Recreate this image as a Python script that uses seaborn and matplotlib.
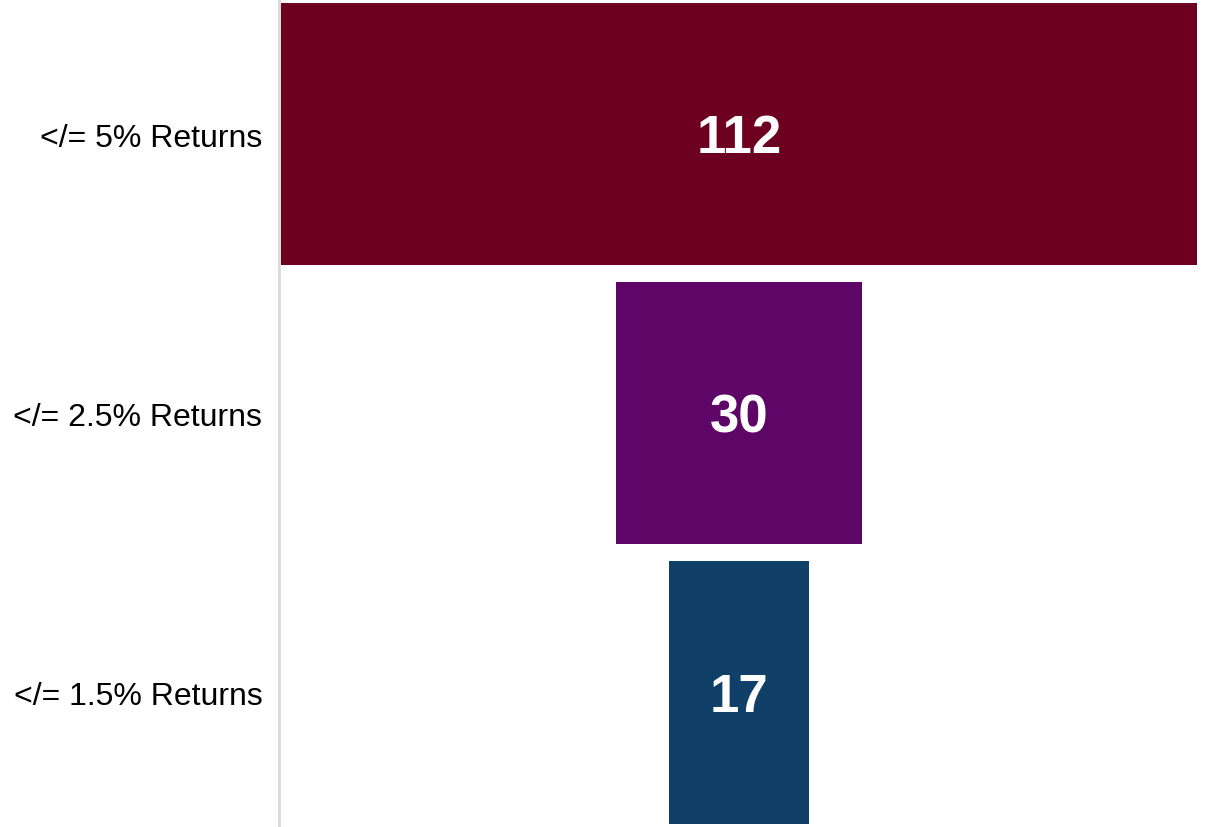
import matplotlib
matplotlib.use("Agg")
import matplotlib.pyplot as plt
import seaborn as sns
import pandas as pd

# Funnel data
stages = ["</= 5% Returns", "</= 2.5% Returns", "</= 1.5% Returns"]
counts = [112, 30, 17]
colors = ["#6d0020", "#5e0667", "#103f68"]

df = pd.DataFrame({"stage": stages, "count": counts})

sns.set_theme(style="white")
plt.rcParams["font.family"] = ["Liberation Sans", "DejaVu Sans"]

fig = plt.figure(figsize=(12.05, 8.28), dpi=100)
ax = fig.add_axes([279 / 1205, 0, 920 / 1205, 1])

sns.barplot(
    data=df, x="count", y="stage", hue="stage",
    palette=colors, orient="h", width=0.94,
    legend=False, ax=ax, saturation=1, linewidth=0,
)

# centre each bar on zero to get the funnel shape
for patch in ax.patches:
    w = patch.get_width()
    patch.set_x(-w / 2)
    patch.set_edgecolor("none")

for i, v in enumerate(counts):
    ax.text(0, i + 0.015, str(v), ha="center", va="center",
            color="white", fontsize=38, fontweight="bold")

ax.set_xlim(-56.25, 56.25)
ax.set_ylim(2.482, -0.484)
ax.set_xlabel("")
ax.set_ylabel("")
ax.set_xticks([])
ax.tick_params(axis="y", length=0, labelsize=23, pad=12, colors="black")

for side in ["top", "right", "bottom"]:
    ax.spines[side].set_visible(False)
ax.spines["left"].set_color("#d9d9d9")
ax.spines["left"].set_linewidth(2)

fig.savefig("out.png", dpi=100)
